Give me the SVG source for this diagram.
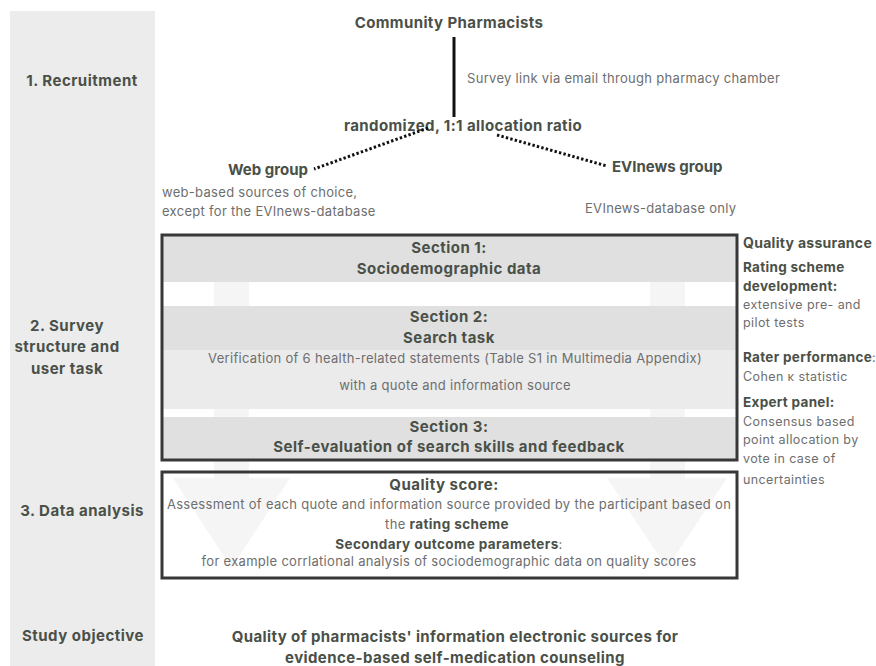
<svg xmlns="http://www.w3.org/2000/svg" width="876" height="666" viewBox="0 0 876 666">
<style>
.b{font-family:Inter,"Noto Sans","Liberation Sans",sans-serif;font-weight:700;fill:#4a5048}
.n{font-family:Inter,"Noto Sans","Liberation Sans",sans-serif;font-weight:400;fill:#6e6e6e}
.bt{font-size:15px;letter-spacing:0.4px}
.bg{font-size:15px}
.bh{font-size:15px;letter-spacing:0.5px}
.bm{font-size:13.5px;letter-spacing:0.4px}
.nm{font-size:13px;letter-spacing:0.3px}
.rb{font-size:14px;letter-spacing:0.3px}
.rs{font-size:13.5px;letter-spacing:0.3px}
.rn{font-size:12.5px;letter-spacing:0.4px}
.c{text-anchor:middle}
.box{fill:none;stroke:#383838;stroke-width:3}
.dot{stroke:#111;stroke-width:3;stroke-dasharray:2.4 2.2;fill:none}
.bigarrow{fill:#f5f5f5}
</style>
<rect width="876" height="666" fill="#ffffff"/>
<g id="stage-column">
<rect x="10" y="11" width="145" height="655" fill="#ececec"/>
<text class="b bh c" x="82" y="86">1. Recruitment</text>
<text class="b bh c" x="67" y="331">2. Survey</text>
<text class="b bh c" x="67" y="352">structure and</text>
<text class="b bh c" x="67" y="374">user task</text>
<text class="b bh c" x="82" y="516">3. Data analysis</text>
<text class="b bh c" x="83" y="641">Study objective</text>
</g>
<g id="background-arrows">
<path class="bigarrow" d="M214 240 H249 V478 H290 L231.5 568 L173 478 H214 Z"/>
<path class="bigarrow" d="M650 240 H685 V478 H727 L667 568 L607 478 H650 Z"/>
</g>
<g id="community-pharmacists">
<text class="b bt c" x="449" y="28">Community Pharmacists</text>
</g>
<g id="randomization">
<text class="b bt c" x="463" y="131">randomized, 1:1 allocation ratio</text>
</g>
<g id="web-group">
<text class="b bg" x="228" y="175">Web group</text>
<text class="n nm" x="162" y="197">web-based sources of choice,</text>
<text class="n nm" x="162" y="216">except for the EVInews-database</text>
</g>
<g id="evinews-group">
<text class="b bg" x="612" y="172">EVInews group</text>
<text class="n nm" x="585" y="213">EVInews-database only</text>
</g>
<g id="connectors">
<line x1="454" y1="37" x2="454" y2="117" stroke="#111" stroke-width="3"/>
<text class="n nm" x="467" y="83">Survey link via email through pharmacy chamber</text>
<line class="dot" x1="428" y1="128" x2="314" y2="169"/>
<line class="dot" x1="497" y1="135" x2="607" y2="166"/>
</g>
<g id="survey-structure">
<rect x="162" y="235" width="575" height="47" fill="#e0e0e0"/>
<rect x="162" y="306" width="575" height="44" fill="#e0e0e0"/>
<rect x="162" y="350" width="575" height="59" fill="#ebebeb"/>
<rect x="162" y="417" width="575" height="43" fill="#e0e0e0"/>
<rect class="box" x="162" y="235" width="575" height="225"/>
<text class="b bh c" x="449" y="253">Section 1:</text>
<text class="b bh c" x="449" y="274">Sociodemographic data</text>
<text class="b bh c" x="449" y="322">Section 2:</text>
<text class="b bh c" x="449" y="343">Search task</text>
<text class="n nm c" x="455" y="363">Verification of 6 health-related statements (Table S1 in Multimedia Appendix)</text>
<text class="n nm c" x="455" y="390">with a quote and information source</text>
<text class="b bh c" x="449" y="432">Section 3:</text>
<text class="b bh c" x="449" y="452">Self-evaluation of search skills and feedback</text>
</g>
<g id="data-analysis">
<rect class="box" x="162" y="472" width="575" height="106"/>
<text class="b bh c" x="444" y="490">Quality score:</text>
<text class="n nm c" x="449" y="509">Assessment of each quote and information source provided by the participant based on</text>
<text class="c" x="447" y="529"><tspan class="n nm">the </tspan><tspan class="b bm">rating scheme</tspan></text>
<text class="c" x="449" y="549"><tspan class="b bm">Secondary outcome parameters</tspan><tspan class="n nm">:</tspan></text>
<text class="n nm c" x="449" y="566">for example corrlational analysis of sociodemographic data on quality scores</text>
</g>
<g id="quality-assurance">
<text class="b rb" x="743" y="248">Quality assurance</text>
<text class="b rs" x="743" y="272">Rating scheme</text>
<text class="b rs" x="743" y="291">development:</text>
<text class="n rn" x="743" y="309">extensive pre- and</text>
<text class="n rn" x="743" y="327">pilot tests</text>
<text x="743" y="362"><tspan class="b rs">Rater performance</tspan><tspan class="n rn">:</tspan></text>
<text class="n rn" x="743" y="381">Cohen κ statistic</text>
<text class="b rs" x="743" y="407">Expert panel:</text>
<text class="n rn" x="743" y="426">Consensus based</text>
<text class="n rn" x="743" y="444">point allocation by</text>
<text class="n rn" x="743" y="463">vote in case of</text>
<text class="n rn" x="743" y="484">uncertainties</text>
</g>
<g id="study-objective">
<text class="b bt c" x="455" y="642">Quality of pharmacists' information electronic sources for</text>
<text class="b bt c" x="455" y="663">evidence-based self-medication counseling</text>
</g>
</svg>
